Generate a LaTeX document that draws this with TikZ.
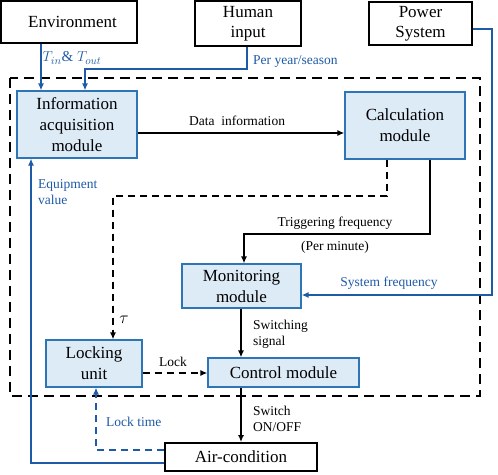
\documentclass[tikz,border=0pt]{standalone}
\usepackage{fontspec}
\setmainfont{Liberation Serif}
\usetikzlibrary{arrows.meta}
\definecolor{lnblue}{RGB}{30,90,165}
\definecolor{bxblue}{RGB}{46,117,182}
\definecolor{bxfill}{RGB}{221,235,247}
\begin{document}
\begin{tikzpicture}[x=1pt,y=-1pt,
  outbox/.style={draw=black,line width=1.8pt,fill=white,inner sep=0pt,align=center,font=\fontsize{17}{20}\selectfont},
  modbox/.style={draw=bxblue,line width=1.2pt,fill=bxfill,inner sep=0pt,align=center,font=\fontsize{17}{21}\selectfont},
  blk/.style={line width=1.4pt,-{Latex[length=7pt,width=6pt]}},
  blkd/.style={blk,dash pattern=on 7pt off 5pt},
  blu/.style={draw=lnblue,line width=1.4pt,-{Latex[length=7pt,width=6pt]}},
  blud/.style={blu,dash pattern=on 7pt off 5pt},
  lbl/.style={font=\fontsize{13.5}{16}\selectfont,align=left,inner sep=0pt},
  blbl/.style={lbl,text=lnblue}]
\useasboundingbox (0,0) rectangle (498,474);
% dashed frame
\draw[line width=1.5pt,dash pattern=on 10pt off 6pt] (10,78) rectangle (480,396);
% nodes
\node[outbox,minimum width=136pt,minimum height=42pt,text width=136pt] (env) at (69,22) {\hspace*{7pt}Environment};
\node[outbox,minimum width=106pt,minimum height=45pt] (hum) at (248,23.5) {Human\\input};
\node[outbox,minimum width=103pt,minimum height=43pt] (pow) at (420.5,23.5) {Power\\System};
\node[modbox,minimum width=120pt,minimum height=67pt] (info) at (77,124.5) {Information\\acquisition\\module};
\node[modbox,minimum width=120pt,minimum height=67pt] (calc) at (405,125.5) {Calculation\\module};
\node[modbox,minimum width=119pt,minimum height=44pt] (mon) at (241.5,286) {Monitoring\\module};
\node[modbox,minimum width=96pt,minimum height=47pt] (lock) at (94,363.5) {Locking\\unit};
\node[modbox,minimum width=151pt,minimum height=29pt] (ctrl) at (283.5,372.5) {Control module};
\node[outbox,minimum width=152pt,minimum height=28pt] (air) at (241,457) {Air-condition};
% coordinates
\coordinate (hc) at (247,69);
\coordinate (pc1) at (492,29);
\coordinate (pc2) at (492,295);
\coordinate (cc1) at (430,234);
\coordinate (cc2) at (244,234);
\coordinate (dc1) at (387,196);
\coordinate (dc2) at (113,196);
\coordinate (ac1) at (31,463);
\coordinate (lc1) at (96,450);
% connectors
\draw[blu] (env.south -| 41,0) -- (info.north -| 41,0);
\node[blbl,font=\fontsize{15}{18}\selectfont] (tl) at (72,58) {$T_{in}$\& $T_{out}$};
\draw[blu] (hum.south -| hc) -- (hc) -| (info.north -| 85,0);
\node[blbl,anchor=west] (pl) at (253,62) {Per year/season};
\draw[blk] (info.east |- 0,133) -- (calc.west |- 0,133);
\node[lbl] (dl) at (237,121) {Data\enspace information};
\draw[blu] (pow.east |- pc1) -- (pc1) -- (pc2) -- (mon.east |- pc2);
\node[blbl] (sl) at (389,283) {System frequency};
\draw[blk] (calc.south -| cc1) -- (cc1) -- (cc2) -- (mon.north -| cc2);
\node[lbl] (trl) at (335,223) {Triggering frequency};
\node[lbl] (pml) at (335,247) {(Per minute)};
\draw[blkd] (calc.south -| dc1) -- (dc1) -- (dc2) -- (lock.north -| dc2);
\node[lbl,font=\fontsize{18}{20}\selectfont] (taul) at (124,320) {$\tau$};
\draw[blkd] (lock.east |- 0,373) -- (ctrl.west |- 0,373);
\node[lbl] (ll) at (173,362) {Lock};
\draw[blk] (mon.south -| 241,0) -- (ctrl.north -| 241,0);
\node[lbl,anchor=west] (swl) at (253,334) {Switching\\signal};
\draw[blk] (ctrl.south -| 241,0) -- (air.north -| 241,0);
\node[lbl,anchor=west] (onl) at (253,419) {Switch\\ON/OFF};
\draw[blu] (air.west |- ac1) -- (ac1) -- (info.south -| ac1);
\node[blbl,anchor=west] (eql) at (38,192) {Equipment\\value};
\draw[blud] (air.west |- lc1) -- (lc1) -- (lock.south -| lc1);
\node[blbl,anchor=west] (ltl) at (106,422) {Lock time};
\end{tikzpicture}
\end{document}
